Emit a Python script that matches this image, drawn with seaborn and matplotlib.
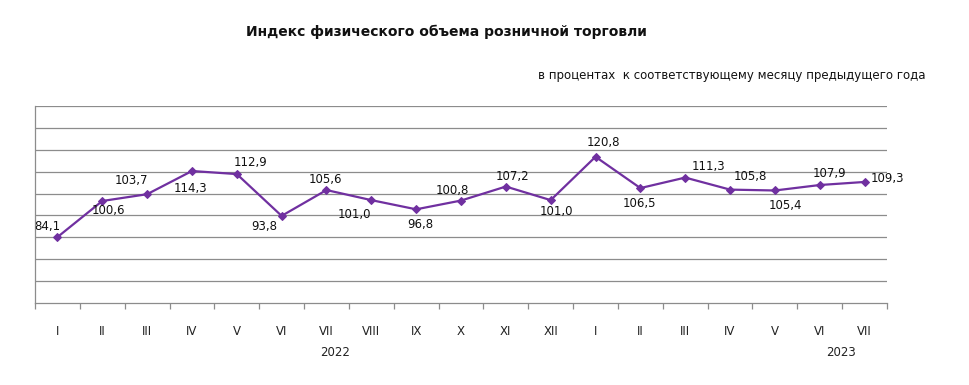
import matplotlib
matplotlib.use("Agg")
import matplotlib.pyplot as plt
import seaborn as sns
import pandas as pd
import numpy as np

months = ["I", "II", "III", "IV", "V", "VI", "VII", "VIII", "IX", "X", "XI", "XII",
          "I", "II", "III", "IV", "V", "VI", "VII"]
values = [84.1, 100.6, 103.7, 114.3, 112.9, 93.8, 105.6, 101.0, 96.8, 100.8, 107.2, 101.0,
          120.8, 106.5, 111.3, 105.8, 105.4, 107.9, 109.3]
years = ["2022", "2023"]
title = "Индекс физического объема розничной торговли"
subtitle = "в процентах  к соответствующему месяцу предыдущего года"

# label offsets in pixels (style)
offsets = [(-10, 11), (6, -10), (-16, 14), (-1, -17), (14, 12), (-17, -11), (-1, 11),
           (-17, -14), (4, -15), (-9, 10), (7, 10), (6, -11), (8, 14), (-1, -15),
           (23, 11), (20, 13), (11, -15), (10, 12), (23, 3)]

sns.set_theme(style="white")
plt.rcParams['font.family'] = ['DejaVu Sans']

df = pd.DataFrame({"x": np.arange(len(values)), "v": values})

fig = plt.figure(figsize=(9.69, 3.85), dpi=100)
ax = fig.add_axes([35/969, 1-303/385, (887-35)/969, (303-106)/385])

grid_c = "#8c8c8c"
line_c = "#7030a0"

sns.lineplot(data=df, x="x", y="v", ax=ax, color=line_c, linewidth=1.6,
             marker="D", markersize=4, markeredgecolor=line_c, markerfacecolor=line_c)

ax.set_xlim(-0.5, len(values) - 0.5)
ax.set_ylim(54, 144)
ax.set_yticks(np.arange(64, 145, 10))
ax.yaxis.grid(True, color=grid_c, linewidth=0.9)
ax.tick_params(axis="y", left=False, labelleft=False)
ax.set_axisbelow(True)

ax.set_xticks(np.arange(-0.5, len(values), 1.0))
ax.set_xticklabels([])
ax.set_xticks(np.arange(len(values)), minor=True)
ax.set_xticklabels(months, minor=True, fontsize=8.5, color="#222222")
ax.tick_params(axis="x", which="major", direction="out", length=4, width=0.9,
               color=grid_c, bottom=True)
ax.tick_params(axis="x", which="minor", length=0, pad=16, bottom=True)
ax.set_xlabel("")
ax.set_ylabel("")

for s in ["top", "right"]:
    ax.spines[s].set_visible(False)
for s in ["left", "bottom"]:
    ax.spines[s].set_color(grid_c)
    ax.spines[s].set_linewidth(0.9)

for i, (v, (dx, dy)) in enumerate(zip(values, offsets)):
    ax.annotate(f"{v:.1f}".replace(".", ","), (i, v), xytext=(dx, dy),
                textcoords="offset pixels", ha="center", va="center",
                fontsize=8.5, color="#111111")

# year labels
ax.text(6.2, -0.25, years[0], transform=ax.get_xaxis_transform(), ha="center",
        va="center", fontsize=8.5, color="#222222")
ax.text(17.47, -0.25, years[1], transform=ax.get_xaxis_transform(), ha="center",
        va="center", fontsize=8.5, color="#222222")

fig.text(446/969, 1-32/385, title, ha="center", va="center", fontsize=10,
         fontweight="bold", color="#111111")
fig.text(925/969, 1-76/385, subtitle, ha="right", va="center", fontsize=8.5,
         color="#111111")

fig.savefig("out.png", dpi=100)
